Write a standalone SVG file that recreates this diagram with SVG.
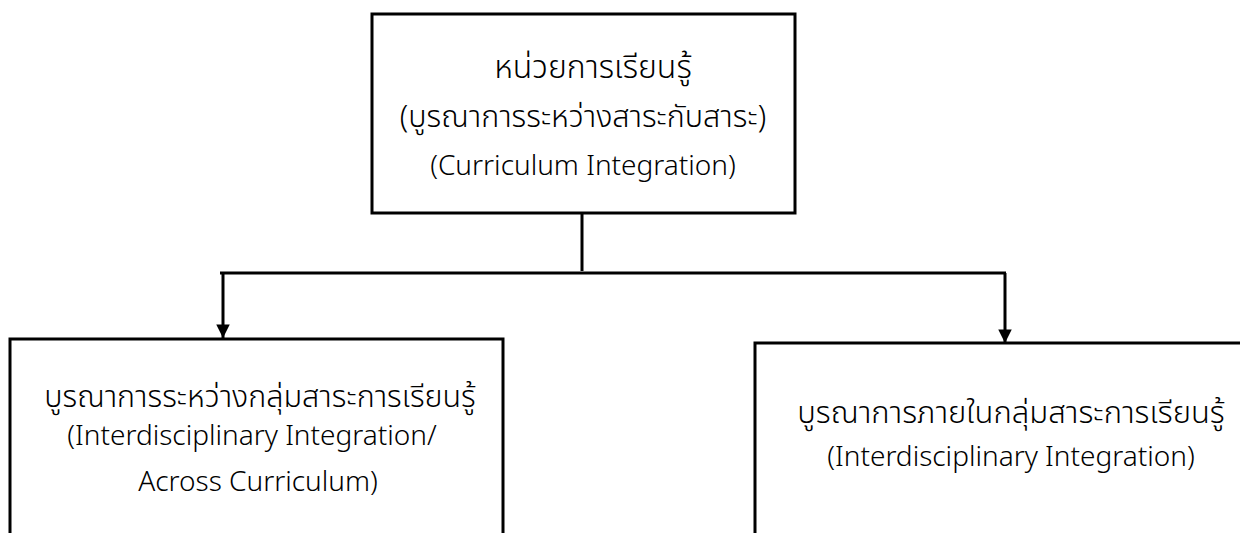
<svg xmlns="http://www.w3.org/2000/svg" width="1240" height="533" viewBox="0 0 1240 533">
<style>
.box{fill:#fff;stroke:#000;stroke-width:3}
.ln{fill:none;stroke:#000;stroke-width:3}
text{font-family:"Noto Sans","Noto Sans Thai","DejaVu Sans",sans-serif;font-size:28px;font-weight:300;fill:#000;text-anchor:middle}
.th{font-size:30.5px}
</style>
<defs>
<marker id="arr" viewBox="0 0 10 10" refX="10" refY="5" markerWidth="5" markerHeight="4.5" markerUnits="strokeWidth" orient="auto">
<path d="M0,0 L10,5 L0,10 z" fill="#000"/>
</marker>
</defs>
<rect width="1240" height="533" fill="#fff"/>
<g id="connectors">
<line class="ln" x1="582" y1="211" x2="582" y2="271"/>
<line class="ln" x1="220" y1="273" x2="1006" y2="273"/>
<line class="ln" x1="223" y1="273" x2="223" y2="338" marker-end="url(#arr)"/>
<line class="ln" x1="1005" y1="273" x2="1005" y2="343" marker-end="url(#arr)"/>
</g>
<g id="top">
<rect class="box" x="372" y="14" width="423" height="199"/>
<text class="th" x="593" y="78" style="font-size:32px">หน่วยการเรียนรู้</text>
<text class="th" x="583" y="127">(บูรณาการระหว่างสาระกับสาระ)</text>
<text x="583" y="175">(Curriculum Integration)</text>
</g>
<g id="left">
<rect class="box" x="10" y="339" width="493" height="220"/>
<text class="th" x="260" y="407">บูรณาการระหว่างกลุ่มสาระการเรียนรู้</text>
<text x="252" y="445">(Interdisciplinary Integration/</text>
<text x="258" y="491">Across Curriculum)</text>
</g>
<g id="right">
<rect class="box" x="755" y="343" width="520" height="220"/>
<text class="th" x="1011" y="423" style="font-size:31px">บูรณาการภายในกลุ่มสาระการเรียนรู้</text>
<text x="1011" y="466">(Interdisciplinary Integration)</text>
</g>
</svg>
